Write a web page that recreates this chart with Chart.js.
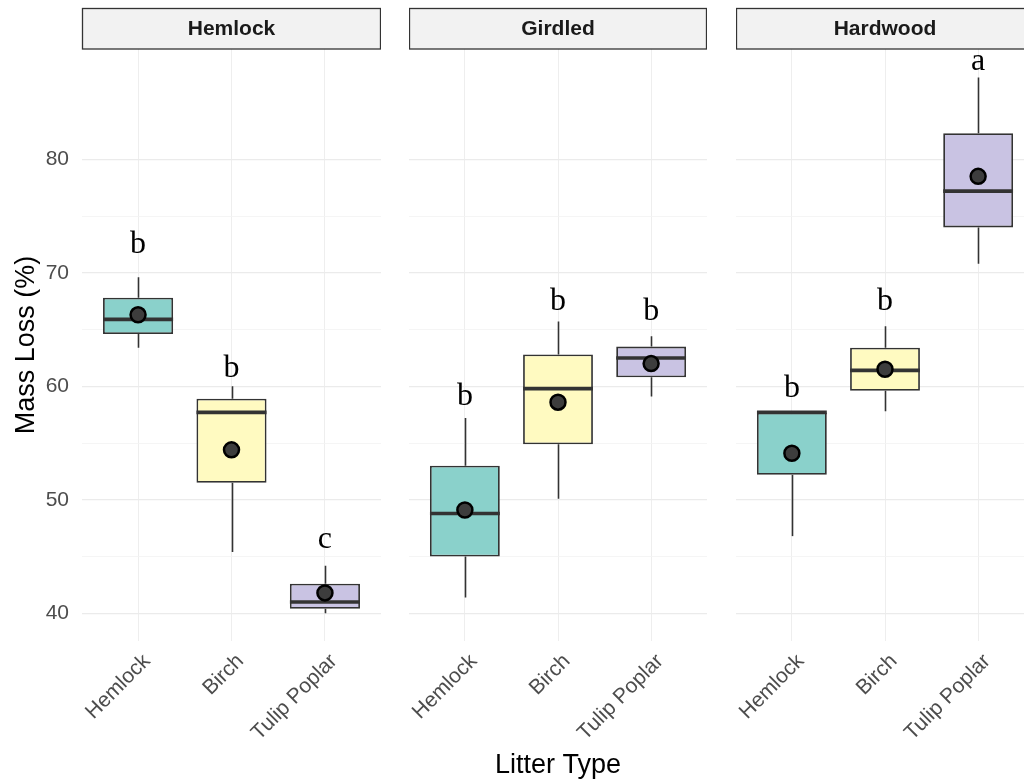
<!DOCTYPE html>
<html>
<head>
<meta charset="utf-8">
<title>Litter mass loss by site</title>
<script src="https://cdn.jsdelivr.net/npm/chart.js@4/dist/chart.umd.min.js"></script>
<style>
  html, body { margin: 0; padding: 0; background: #ffffff; width: 1024px; height: 784px; overflow: hidden; position: relative; }
  canvas { position: absolute; top: 0; }
</style>
</head>
<body>
<canvas id="panelHemlock" width="381" height="784" style="left:0px"></canvas>
<canvas id="panelGirdled" width="298" height="784" style="left:409px"></canvas>
<canvas id="panelHardwood" width="298" height="784" style="left:736px"></canvas>
<script>
// Sites (facets) and litter types (boxes within each facet)
const sites = ['Hemlock', 'Girdled', 'Hardwood'];
const litterTypes = ['Hemlock', 'Birch', 'Tulip Poplar'];

// Box statistics, mass loss (%): one row per site, one column per litter type
const whiskerLow  = [[63.4, 45.4, 40.0], [41.4, 50.1, 59.1], [46.8, 57.8, 70.8]];
const quartile1   = [[64.6, 51.5, 40.4], [45.0, 54.9, 60.8], [52.2, 59.6, 74.0]];
const medians     = [[65.9, 57.7, 41.0], [48.8, 59.8, 62.5], [57.7, 61.4, 77.2]];
const quartile3   = [[67.8, 58.9, 42.6], [53.0, 62.8, 63.5], [57.7, 63.4, 82.3]];
const whiskerHigh = [[69.6, 60.0, 44.2], [57.2, 65.7, 64.4], [57.7, 65.3, 87.2]];
const means       = [[66.3, 54.4, 41.8], [49.1, 58.6, 62.0], [54.1, 61.5, 78.5]];

// Significance groups and the height at which each letter sits
const groupLetters = [['b', 'b', 'c'], ['b', 'b', 'b'], ['b', 'b', 'a']];
const letterAt     = [[72.5, 61.6, 46.5], [59.1, 67.5, 66.6], [59.8, 67.5, 88.6]];

// Y axis: labelled breaks and the minor breaks between them
const yMajorTicks = [40, 50, 60, 70, 80];
const yMinorTicks = [45, 55, 65, 75];
const yRange = [37.56, 89.72];

const boxFills = ['#8ad1cb', '#fffac1', '#c9c3e3'];
const sansFont = '"Liberation Sans", Arial, Helvetica, sans-serif';
const serifFont = '"Liberation Serif", "Times New Roman", serif';

// Grey facet header above each panel
const stripPlugin = {
  id: 'strip',
  afterDraw(chart, args, opts) {
    const { ctx, chartArea: a } = chart;
    ctx.save();
    const top = 8.5, bottom = 49;
    ctx.fillStyle = '#f2f2f2';
    ctx.fillRect(a.left + 0.5, top, a.right - a.left - 1, bottom - top);
    ctx.strokeStyle = '#333333';
    ctx.lineWidth = 1.3;
    ctx.strokeRect(a.left + 0.5, top, a.right - a.left - 1, bottom - top);
    ctx.fillStyle = '#1a1a1a';
    ctx.font = 'bold 21px ' + sansFont;
    ctx.textAlign = 'center';
    ctx.textBaseline = 'middle';
    ctx.fillText(opts.label, (a.left + a.right) / 2, 29.5);
    ctx.restore();
  }
};

// Whiskers, median bars and group letters, placed through the chart scales
const boxStatsPlugin = {
  id: 'boxStats',
  beforeDatasetsDraw(chart, args, opts) {
    const s = opts.site;
    const { ctx, scales: { x, y } } = chart;
    ctx.save();
    ctx.strokeStyle = '#333333';
    ctx.lineWidth = 1.6;
    litterTypes.forEach((_, i) => {
      const px = Math.round(x.getPixelForValue(i)) + 0.5;
      ctx.beginPath();
      ctx.moveTo(px, y.getPixelForValue(whiskerHigh[s][i]));
      ctx.lineTo(px, y.getPixelForValue(quartile3[s][i]));
      ctx.moveTo(px, y.getPixelForValue(quartile1[s][i]));
      ctx.lineTo(px, y.getPixelForValue(whiskerLow[s][i]));
      ctx.stroke();
    });
    ctx.restore();
  },
  afterDatasetDraw(chart, args, opts) {
    if (chart.data.datasets[args.index].type !== 'bar') return;
    const s = opts.site;
    const { ctx, scales: { y } } = chart;
    ctx.save();
    ctx.strokeStyle = '#333333';
    ctx.lineWidth = 3.6;
    args.meta.data.forEach((bar, i) => {
      const py = y.getPixelForValue(medians[s][i]);
      ctx.beginPath();
      ctx.moveTo(bar.x - bar.width / 2, py);
      ctx.lineTo(bar.x + bar.width / 2, py);
      ctx.stroke();
    });
    ctx.restore();
  },
  afterDatasetsDraw(chart, args, opts) {
    const s = opts.site;
    const { ctx, scales: { x, y } } = chart;
    ctx.save();
    ctx.fillStyle = '#000000';
    ctx.font = '32px ' + serifFont;
    ctx.textAlign = 'center';
    ctx.textBaseline = 'middle';
    litterTypes.forEach((_, i) => {
      ctx.fillText(groupLetters[s][i], x.getPixelForValue(i), y.getPixelForValue(letterAt[s][i]));
    });
    ctx.restore();
  }
};

function makePanel(canvasId, s) {
  const first = s === 0;
  const middle = s === 1;
  return new Chart(document.getElementById(canvasId), {
    type: 'bar',
    data: {
      datasets: [
        {
          type: 'scatter',
          data: litterTypes.map((_, i) => ({ x: i, y: means[s][i] })),
          pointRadius: 7.5,
          pointHoverRadius: 7.5,
          pointBackgroundColor: '#3d3d3d',
          pointBorderColor: '#000000',
          pointBorderWidth: 2.5
        },
        {
          type: 'bar',
          data: litterTypes.map((_, i) => ({ x: i, y: [quartile1[s][i], quartile3[s][i]] })),
          backgroundColor: boxFills,
          borderColor: '#333333',
          borderWidth: 1.8,
          borderSkipped: false,
          categoryPercentage: 1,
          barPercentage: 0.75
        }
      ]
    },
    options: {
      responsive: false,
      animation: false,
      events: [],
      layout: { autoPadding: false, padding: { top: 49, left: 0, right: 0, bottom: 0 } },
      plugins: {
        legend: { display: false },
        tooltip: { enabled: false },
        strip: { label: sites[s] },
        boxStats: { site: s }
      },
      scales: {
        x: {
          type: 'linear',
          min: -0.6,
          max: 2.6,
          offset: false,
          afterBuildTicks: sc => { sc.ticks = litterTypes.map((_, i) => ({ value: i })); },
          afterFit: sc => { sc.height = 143; sc.paddingLeft = 0; sc.paddingRight = 0; },
          border: { display: false },
          grid: { color: '#eeeeee', lineWidth: 1, drawTicks: false, offset: false },
          ticks: {
            callback: v => litterTypes[v],
            minRotation: 45,
            maxRotation: 45,
            autoSkip: false,
            padding: 8,
            labelOffset: 9,
            color: '#4d4d4d',
            font: { family: sansFont, size: 21 }
          },
          title: {
            display: middle,
            text: 'Litter Type',
            color: '#000000',
            font: { family: sansFont, size: 27 },
            padding: { top: 0, bottom: 2 }
          }
        },
        y: {
          type: 'linear',
          min: yRange[0],
          max: yRange[1],
          beginAtZero: false,
          afterBuildTicks: sc => {
            sc.ticks = yMajorTicks.concat(yMinorTicks).sort((a, b) => a - b).map(v => ({ value: v }));
          },
          afterFit: sc => { sc.width = first ? 82 : 0; sc.paddingTop = 0; sc.paddingBottom = 0; },
          border: { display: false },
          grid: {
            drawTicks: false,
            color: c => (yMajorTicks.includes(c.tick.value) ? '#ebebeb' : '#f3f3f3'),
            lineWidth: c => (yMajorTicks.includes(c.tick.value) ? 1.2 : 0.8)
          },
          ticks: {
            display: first,
            callback: v => (yMajorTicks.includes(v) ? String(v) : ''),
            padding: 13,
            color: '#4d4d4d',
            font: { family: sansFont, size: 21 }
          },
          title: {
            display: first,
            text: 'Mass Loss (%)',
            color: '#000000',
            font: { family: sansFont, size: 27 },
            padding: { top: 10, bottom: 0 }
          }
        }
      }
    },
    plugins: [stripPlugin, boxStatsPlugin]
  });
}

makePanel('panelHemlock', 0);
makePanel('panelGirdled', 1);
makePanel('panelHardwood', 2);
</script>
</body>
</html>
